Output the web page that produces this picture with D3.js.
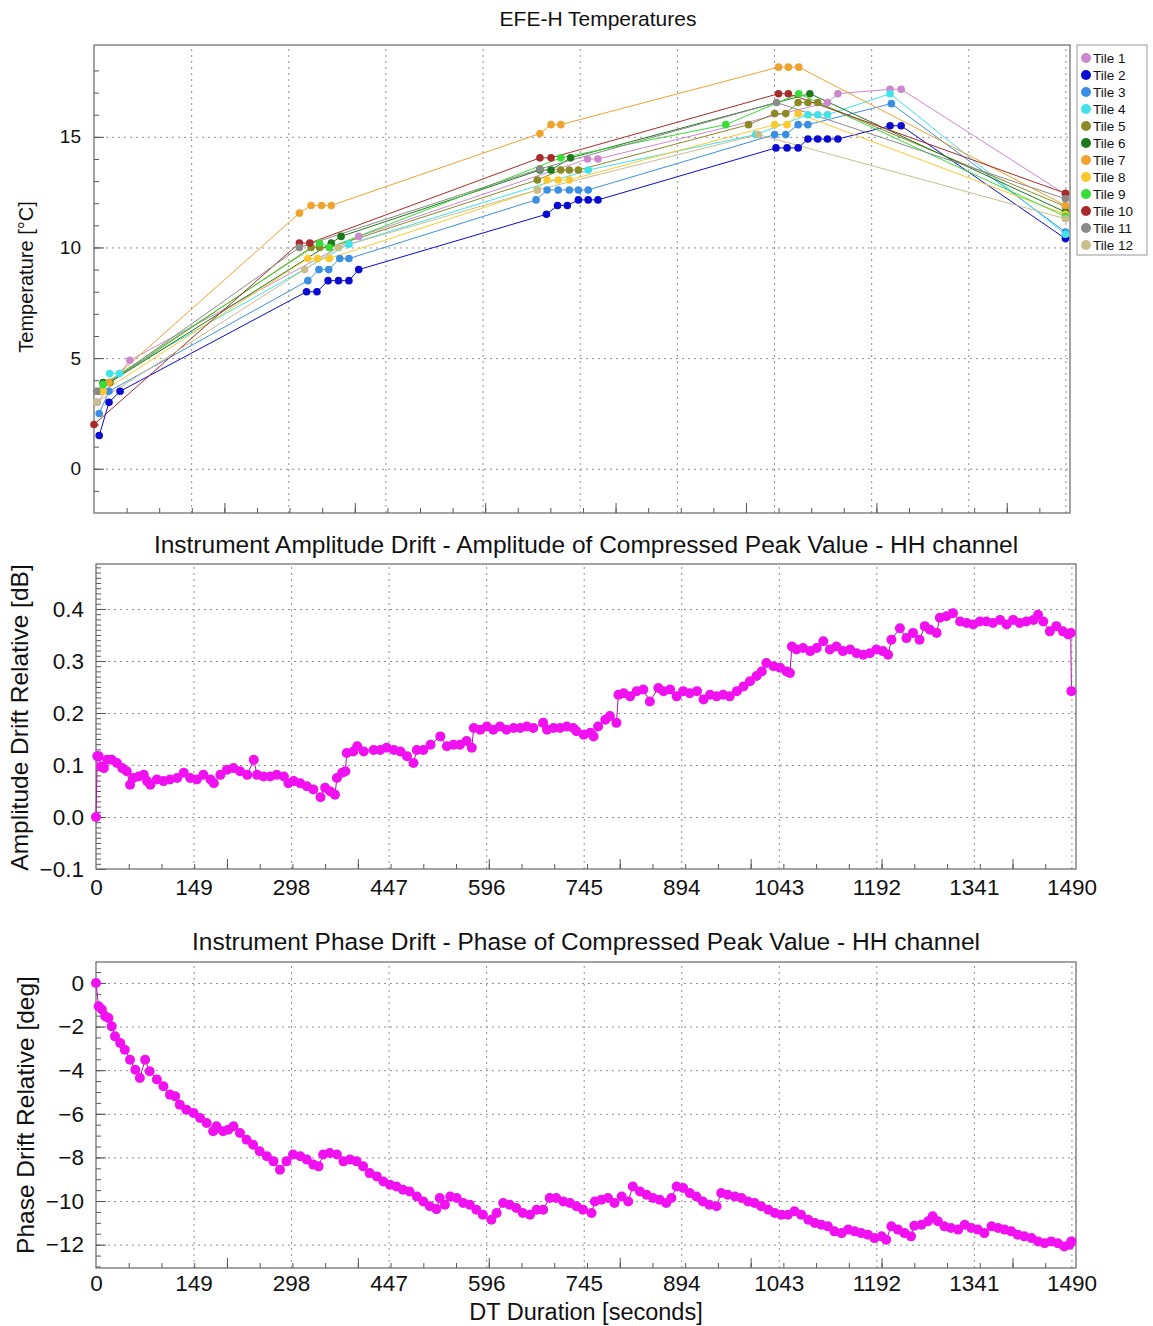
<!DOCTYPE html>
<html>
<head>
<meta charset="utf-8">
<script src="https://cdn.jsdelivr.net/npm/d3@7"></script>
<style>
  body { margin: 0; background: #fff; }
  text { font-family: "Liberation Sans", Arial, sans-serif; fill: #111; }
  .grid line { stroke: #8f8f8f; stroke-dasharray: 2,4; }
  .grid path, .ticks path, .labels path { display: none; }
  .ticks line { stroke: #555; }
</style>
</head>
<body>
<svg id="chart" width="1153" height="1326"></svg>
<script>

// ---- data ----
var tileNames = ["Tile 1", "Tile 2", "Tile 3", "Tile 4", "Tile 5", "Tile 6",
                 "Tile 7", "Tile 8", "Tile 9", "Tile 10", "Tile 11", "Tile 12"];

// [time (s), temperature (degC)]
var tile1  = [[5, 3.0], [55, 4.9], [406, 10.5], [757, 14.0], [773, 14.0], [1125, 16.55], [1141, 16.95], [1221, 17.15], [1238, 17.15], [1490, 12.4]];
var tile2  = [[8, 1.5], [23, 3.0], [40, 3.5], [326, 8.0], [342, 8.0], [359, 8.5], [375, 8.5], [391, 8.5], [406, 9.0],
              [694, 11.5], [711, 11.9], [726, 11.9], [743, 12.15], [758, 12.15], [773, 12.15],
              [1046, 14.5], [1063, 14.5], [1080, 14.5], [1095, 14.9], [1110, 14.9], [1125, 14.9], [1141, 14.9], [1221, 15.5], [1238, 15.5], [1490, 10.4]];
var tile3  = [[8, 2.5], [23, 3.5], [328, 8.5], [345, 9.0], [360, 9.0], [377, 9.5], [391, 9.5],
              [678, 12.15], [695, 12.6], [712, 12.6], [729, 12.6], [743, 12.6], [758, 12.6],
              [1044, 15.1], [1061, 15.1], [1080, 15.55], [1095, 15.55], [1223, 16.5], [1490, 10.7]];
var tile4  = [[24, 4.3], [39, 4.3], [391, 10.15], [758, 13.5], [1015, 15.1], [1095, 16.0], [1110, 16.0], [1125, 16.0], [1221, 16.95], [1490, 10.6]];
var tile5  = [[8, 3.5], [24, 3.9], [333, 10.0], [346, 10.0], [361, 10.0], [680, 13.05], [716, 13.5], [729, 13.5], [743, 13.5],
              [1004, 15.55], [1044, 16.05], [1061, 16.05], [1080, 16.55], [1095, 16.55], [1110, 16.55], [1490, 11.85]];
var tile6  = [[14, 3.9], [24, 3.9], [364, 10.2], [379, 10.5], [684, 13.5], [701, 13.5], [731, 14.05], [1098, 16.95], [1490, 11.6]];
var tile7  = [[23, 3.9], [315, 11.55], [333, 11.9], [349, 11.9], [364, 11.9], [684, 15.15], [701, 15.55], [716, 15.55],
              [1050, 18.15], [1065, 18.15], [1081, 18.15], [1490, 11.9]];
var tile8  = [[14, 3.5], [328, 9.5], [343, 9.5], [361, 9.5], [680, 12.6], [695, 13.05], [712, 13.05], [729, 13.05],
              [1044, 15.55], [1063, 15.55], [1080, 16.05], [1490, 11.5]];
var tile9  = [[14, 3.8], [346, 10.2], [361, 10.0], [716, 14.05], [969, 15.55], [1081, 16.95], [1490, 11.4]];
var tile10 = [[0, 2.0], [315, 10.2], [331, 10.2], [684, 14.05], [701, 14.05], [1050, 16.95], [1065, 16.95], [1490, 12.45]];
var tile11 = [[4, 3.5], [315, 10.0], [684, 13.55], [1047, 16.55], [1490, 12.2]];
var tile12 = [[4, 3.0], [323, 9.0], [375, 10.0], [680, 12.6], [1019, 15.1], [1490, 11.3]];

var tileSeries = [tile1, tile2, tile3, tile4, tile5, tile6, tile7, tile8, tile9, tile10, tile11, tile12];

// [time (s), amplitude drift (dB)]
var ampDrift = [[0, 0.000], [2, 0.117], [4, 0.117], [8, 0.097], [12, 0.094], [17, 0.110], [24, 0.110], [32, 0.104], [40, 0.094],
  [47, 0.088], [52, 0.062], [57, 0.075], [65, 0.078], [73, 0.081], [78, 0.069], [83, 0.062], [93, 0.072], [103, 0.069],
  [113, 0.072], [124, 0.075], [134, 0.085], [144, 0.075], [154, 0.072], [164, 0.081], [175, 0.072], [180, 0.065], [190, 0.081],
  [200, 0.091], [210, 0.094], [220, 0.088], [231, 0.081], [241, 0.110], [246, 0.081], [256, 0.078], [266, 0.078], [276, 0.081],
  [287, 0.078], [294, 0.065], [302, 0.069], [312, 0.065], [322, 0.059], [332, 0.053], [343, 0.038], [350, 0.056], [358, 0.049],
  [365, 0.043], [368, 0.075], [376, 0.085], [381, 0.088], [383, 0.123], [393, 0.126], [399, 0.136], [409, 0.126], [424, 0.129],
  [434, 0.129], [444, 0.133], [455, 0.129], [465, 0.126], [475, 0.117], [485, 0.104], [490, 0.129], [500, 0.129], [511, 0.139],
  [526, 0.155], [536, 0.136], [546, 0.139], [556, 0.139], [566, 0.146], [574, 0.133], [577, 0.171], [587, 0.168], [597, 0.174],
  [607, 0.168], [617, 0.174], [627, 0.168], [638, 0.171], [648, 0.171], [658, 0.174], [668, 0.171], [683, 0.181], [689, 0.168],
  [699, 0.171], [709, 0.171], [719, 0.174], [729, 0.171], [734, 0.165], [745, 0.158], [755, 0.162], [760, 0.155], [767, 0.174],
  [778, 0.187], [785, 0.194], [795, 0.181], [798, 0.235], [806, 0.238], [816, 0.232], [826, 0.242], [836, 0.245], [846, 0.222],
  [859, 0.248], [867, 0.242], [877, 0.245], [887, 0.232], [897, 0.242], [907, 0.238], [918, 0.242], [928, 0.226], [938, 0.235],
  [948, 0.232], [958, 0.235], [968, 0.232], [979, 0.242], [989, 0.251], [999, 0.261], [1009, 0.271], [1017, 0.280], [1024, 0.296],
  [1035, 0.290], [1045, 0.287], [1055, 0.280], [1060, 0.277], [1063, 0.328], [1070, 0.322], [1080, 0.325], [1091, 0.319],
  [1101, 0.325], [1111, 0.338], [1121, 0.322], [1131, 0.328], [1141, 0.319], [1152, 0.322], [1162, 0.315], [1172, 0.312],
  [1182, 0.315], [1192, 0.322], [1202, 0.319], [1210, 0.312], [1215, 0.341], [1228, 0.363], [1238, 0.344], [1248, 0.354],
  [1258, 0.341], [1266, 0.367], [1274, 0.360], [1284, 0.354], [1289, 0.383], [1299, 0.386], [1309, 0.392], [1320, 0.376],
  [1330, 0.373], [1340, 0.370], [1350, 0.376], [1360, 0.376], [1370, 0.373], [1381, 0.379], [1391, 0.370], [1401, 0.379],
  [1411, 0.373], [1421, 0.376], [1432, 0.379], [1439, 0.389], [1447, 0.376], [1457, 0.357], [1467, 0.367], [1477, 0.357],
  [1485, 0.351], [1489, 0.354], [1490, 0.242]];

// [time (s), phase drift (deg)]
var phaseDrift = [[0, 0.0], [4, -1.07], [9, -1.22], [14, -1.53], [19, -1.61], [24, -1.99], [29, -2.45], [37, -2.75], [44, -3.06],
  [52, -3.52], [60, -3.98], [67, -4.36], [75, -3.52], [82, -4.05], [93, -4.43], [103, -4.74], [113, -5.12], [121, -5.20],
  [128, -5.58], [138, -5.81], [149, -5.96], [159, -6.19], [169, -6.42], [179, -6.80], [184, -6.57], [194, -6.80], [202, -6.73],
  [210, -6.57], [220, -6.88], [230, -7.19], [240, -7.42], [250, -7.72], [261, -7.95], [271, -8.18], [281, -8.56], [291, -8.18],
  [301, -7.87], [312, -7.95], [322, -8.10], [332, -8.33], [340, -8.41], [347, -7.87], [357, -7.80], [368, -7.87], [378, -8.18],
  [388, -8.10], [398, -8.18], [408, -8.41], [418, -8.72], [429, -8.87], [439, -9.10], [449, -9.25], [459, -9.33], [469, -9.48],
  [479, -9.56], [490, -9.79], [500, -10.02], [510, -10.24], [520, -10.37], [525, -9.86], [533, -10.17], [541, -9.79],
  [551, -9.86], [561, -10.09], [571, -10.17], [581, -10.40], [591, -10.63], [604, -10.86], [612, -10.55], [622, -10.09],
  [632, -10.17], [642, -10.32], [652, -10.55], [663, -10.63], [673, -10.40], [683, -10.40], [693, -9.86], [703, -9.86],
  [714, -10.02], [724, -10.09], [734, -10.24], [744, -10.40], [757, -10.55], [762, -10.02], [772, -9.94], [782, -9.86],
  [792, -10.09], [803, -9.79], [813, -10.02], [820, -9.33], [831, -9.56], [841, -9.71], [851, -9.86], [861, -9.94],
  [871, -10.09], [879, -9.86], [887, -9.33], [897, -9.40], [907, -9.63], [917, -9.79], [927, -10.02], [937, -10.17],
  [948, -10.24], [955, -9.63], [965, -9.71], [976, -9.79], [986, -9.86], [996, -10.02], [1006, -10.09], [1016, -10.24],
  [1027, -10.40], [1037, -10.55], [1047, -10.63], [1057, -10.63], [1067, -10.47], [1077, -10.63], [1088, -10.86],
  [1098, -11.01], [1108, -11.09], [1118, -11.16], [1128, -11.39], [1139, -11.47], [1149, -11.31], [1159, -11.39],
  [1169, -11.47], [1179, -11.54], [1189, -11.70], [1200, -11.62], [1207, -11.77], [1215, -11.16], [1225, -11.31],
  [1235, -11.47], [1245, -11.62], [1250, -11.13], [1261, -11.09], [1271, -10.93], [1278, -10.70], [1286, -10.93],
  [1296, -11.16], [1306, -11.24], [1317, -11.31], [1327, -11.09], [1337, -11.24], [1347, -11.31], [1357, -11.47],
  [1368, -11.16], [1378, -11.24], [1388, -11.31], [1398, -11.39], [1408, -11.54], [1418, -11.62], [1429, -11.70],
  [1439, -11.85], [1449, -11.93], [1459, -11.85], [1469, -11.93], [1479, -12.08], [1487, -12.00], [1490, -11.85]];

var timeTicks = [0, 149, 298, 447, 596, 745, 894, 1043, 1192, 1341, 1490];
var tempTicks = [0, 5, 10, 15];
var ampTicks = [-0.1, 0.0, 0.1, 0.2, 0.3, 0.4];
var phaseTicks = [0, -2, -4, -6, -8, -10, -12];

// colours of the 12 tiles
var tileColors = ["#cc88cc", "#0a0ad0", "#3b8fe3", "#3fe2e6", "#8b8a26", "#1c7a1c",
                  "#f0a22e", "#fcc830", "#38dc38", "#a82a2a", "#8a8a8a", "#c9bd8e"];
var magenta = "#f010f0";

var svg = d3.select("#chart");
svg.append("rect").attr("width", 1153).attr("height", 1326).attr("fill", "#fff");

// draws frame, grid, ticks and labels of one panel and returns its scales
function drawPanel(cfg) {
    var w = cfg.right - cfg.left,
        h = cfg.bottom - cfg.top;

    var x = d3.scaleLinear().domain([0, 1497]).range([cfg.left, cfg.right]);
    var y = d3.scaleLinear().domain(cfg.yDomain).range([cfg.bottom, cfg.top]);

    // grid
    svg.append("g")
      .attr("class", "grid")
      .attr("transform", `translate(0, ${cfg.bottom})`)
      .call(d3.axisBottom(x).tickValues(timeTicks.slice(1)).tickSize(-h).tickFormat(""));

    svg.append("g")
      .attr("class", "grid")
      .attr("transform", `translate(${cfg.left}, 0)`)
      .call(d3.axisLeft(y).tickValues(cfg.yTicks.filter(v => v > cfg.yDomain[0])).tickSize(-w).tickFormat(""));

    // inward ticks on x
    svg.append("g")
      .attr("class", "ticks")
      .attr("transform", `translate(0, ${cfg.bottom})`)
      .call(d3.axisBottom(x).tickValues(d3.range(50, 1491, 50)).tickSize(-5).tickFormat(""));
    svg.append("g")
      .attr("class", "ticks")
      .attr("transform", `translate(0, ${cfg.bottom})`)
      .call(d3.axisBottom(x).tickValues(d3.range(200, 1491, 200)).tickSize(-10).tickFormat(""));

    // inward ticks on y
    svg.append("g")
      .attr("class", "ticks")
      .attr("transform", `translate(${cfg.left}, 0)`)
      .call(d3.axisLeft(y).tickValues(cfg.yMinor).tickSize(-5).tickFormat(""));
    svg.append("g")
      .attr("class", "ticks")
      .attr("transform", `translate(${cfg.left}, 0)`)
      .call(d3.axisLeft(y).tickValues(cfg.yTicks).tickSize(-10).tickFormat(""));

    // y labels
    var yl = svg.append("g")
      .attr("class", "labels")
      .attr("transform", `translate(${cfg.left}, 0)`)
      .call(d3.axisLeft(y).tickValues(cfg.yTicks).tickSize(0).tickPadding(cfg.yPad).tickFormat(cfg.yFormat));
    yl.selectAll("text").style("font-size", cfg.fontSize + "px").attr("fill", "#111");

    // x labels
    if (cfg.xLabels) {
        var xl = svg.append("g")
          .attr("class", "labels")
          .attr("transform", `translate(0, ${cfg.bottom})`)
          .call(d3.axisBottom(x).tickValues(timeTicks).tickSize(0).tickPadding(cfg.xPad).tickFormat(d3.format("d")));
        xl.selectAll("text").style("font-size", cfg.fontSize + "px").attr("fill", "#111");
    }

    // frame
    svg.append("rect")
      .attr("x", cfg.left).attr("y", cfg.top)
      .attr("width", w).attr("height", h)
      .attr("fill", "none").attr("stroke", "#666").attr("stroke-width", 1.2);

    // title
    svg.append("text")
      .attr("x", cfg.titleX).attr("y", cfg.titleY)
      .attr("text-anchor", "middle")
      .style("font-size", cfg.titleSize + "px")
      .text(cfg.title);

    // y axis title
    svg.append("text")
      .attr("transform", `translate(${cfg.yTitleX}, ${(cfg.top + cfg.bottom) / 2 + cfg.yTitleShift}) rotate(-90)`)
      .attr("text-anchor", "middle")
      .style("font-size", cfg.yTitleSize + "px")
      .text(cfg.yTitle);

    return {x: x, y: y};
}

// ---- top panel: EFE-H temperatures ----
var tempPanel = drawPanel({
    left: 94, right: 1070, top: 45, bottom: 513,
    yDomain: [-2, 19.15], yTicks: tempTicks, yMinor: d3.range(-1, 19, 1),
    yFormat: d3.format("d"), yPad: 13, fontSize: 19, xLabels: false,
    title: "EFE-H Temperatures", titleX: 598, titleY: 26, titleSize: 21,
    yTitle: "Temperature [°C]", yTitleX: 33, yTitleShift: -2, yTitleSize: 20
});

var tempLine = d3.line()
    .x(d => tempPanel.x(d[0]))
    .y(d => tempPanel.y(d[1]));

tileSeries.forEach(function(series, i) {
    svg.append("path")
      .attr("d", tempLine(series))
      .attr("fill", "none")
      .attr("stroke", tileColors[i])
      .attr("stroke-width", 1);
});
tileSeries.forEach(function(series, i) {
    svg.append("g")
      .selectAll("circle")
      .data(series)
      .enter()
      .append("circle")
        .attr("cx", d => tempPanel.x(d[0]))
        .attr("cy", d => tempPanel.y(d[1]))
        .attr("r", 3.8)
        .attr("fill", tileColors[i]);
});

// legend
var legend = svg.append("g").attr("transform", "translate(1077, 45)");
legend.append("rect")
  .attr("width", 70).attr("height", 210)
  .attr("fill", "#fff").attr("stroke", "#999");
var entry = legend.selectAll("g.entry")
  .data(tileNames)
  .enter()
  .append("g")
    .attr("class", "entry")
    .attr("transform", (d, i) => `translate(0, ${13 + i * 17})`);
entry.append("circle")
  .attr("cx", 9).attr("r", 5)
  .attr("fill", (d, i) => tileColors[i]);
entry.append("text")
  .attr("x", 16).attr("dy", "0.35em")
  .style("font-size", "13.5px")
  .text(d => d);

// ---- middle panel: amplitude drift ----
var ampPanel = drawPanel({
    left: 96, right: 1076, top: 564, bottom: 869,
    yDomain: [-0.1, 0.4865], yTicks: ampTicks, yMinor: d3.range(-9, 49, 1).map(v => v / 100),
    yFormat: d3.format(".1f"), yPad: 12, fontSize: 22.5, xLabels: true, xPad: 10,
    title: "Instrument Amplitude Drift - Amplitude of Compressed Peak Value - HH channel", titleX: 586, titleY: 553, titleSize: 24.5,
    yTitle: "Amplitude Drift Relative [dB]", yTitleX: 28, yTitleShift: 1, yTitleSize: 24.5
});

var ampLine = d3.line()
    .x(d => ampPanel.x(d[0]))
    .y(d => ampPanel.y(d[1]));

svg.append("path")
  .attr("d", ampLine(ampDrift))
  .attr("fill", "none")
  .attr("stroke", "#b010b0")
  .attr("stroke-width", 1);
svg.append("g")
  .selectAll("circle")
  .data(ampDrift)
  .enter()
  .append("circle")
    .attr("cx", d => ampPanel.x(d[0]))
    .attr("cy", d => ampPanel.y(d[1]))
    .attr("r", 5)
    .attr("fill", magenta);

// ---- bottom panel: phase drift ----
var phasePanel = drawPanel({
    left: 96, right: 1076, top: 962, bottom: 1268,
    yDomain: [-13.07, 0.96], yTicks: phaseTicks, yMinor: d3.range(-13, 1, 0.5),
    yFormat: d3.format("d"), yPad: 12, fontSize: 22.5, xLabels: true, xPad: 7,
    title: "Instrument Phase Drift - Phase of Compressed Peak Value - HH channel", titleX: 586, titleY: 950, titleSize: 24.5,
    yTitle: "Phase Drift Relative [deg]", yTitleX: 34, yTitleShift: 0, yTitleSize: 24.5
});

svg.append("text")
  .attr("x", 586).attr("y", 1320)
  .attr("text-anchor", "middle")
  .style("font-size", "23.5px")
  .text("DT Duration [seconds]");

var phaseLine = d3.line()
    .x(d => phasePanel.x(d[0]))
    .y(d => phasePanel.y(d[1]));

svg.append("path")
  .attr("d", phaseLine(phaseDrift))
  .attr("fill", "none")
  .attr("stroke", "#b010b0")
  .attr("stroke-width", 1);
svg.append("g")
  .selectAll("circle")
  .data(phaseDrift)
  .enter()
  .append("circle")
    .attr("cx", d => phasePanel.x(d[0]))
    .attr("cy", d => phasePanel.y(d[1]))
    .attr("r", 5)
    .attr("fill", magenta);

</script>
</body>
</html>
